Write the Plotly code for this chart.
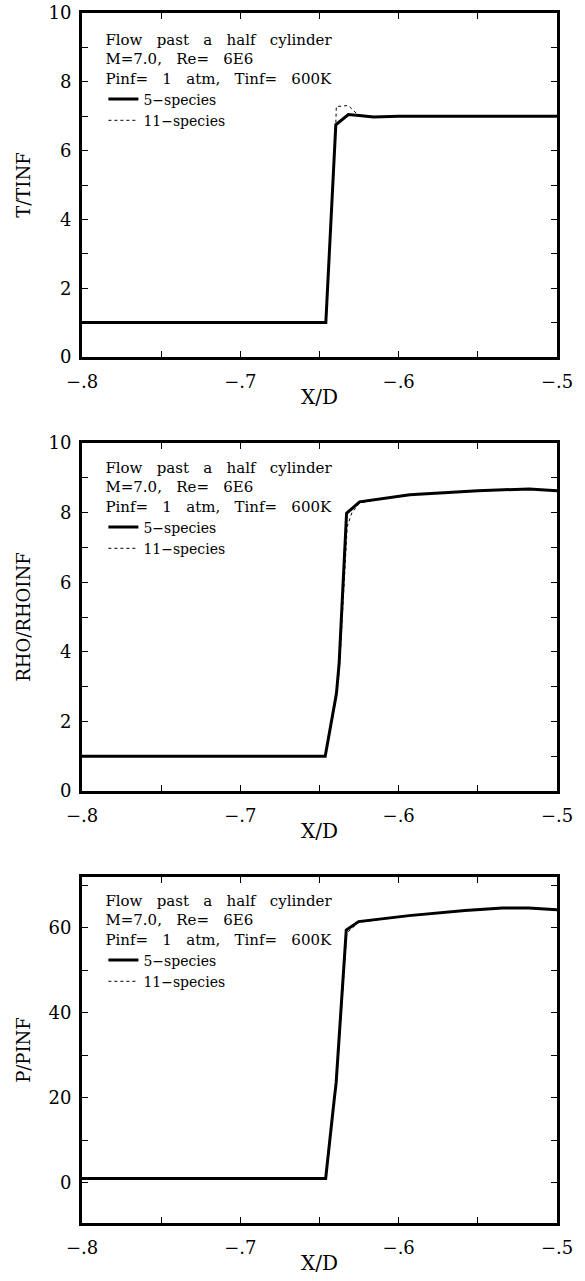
import plotly.graph_objects as go

# ---------------- data ----------------
x_T_5 = [-0.8, -0.646, -0.6397, -0.6318, -0.625, -0.616, -0.6, -0.55, -0.5]
T_5 = [1.0, 1.0, 6.75, 7.05, 7.02, 6.98, 7.0, 7.01, 7.0]
x_T_11 = [-0.8, -0.646, -0.6397, -0.6394, -0.6318, -0.6255, -0.616, -0.6, -0.55, -0.5]
T_11 = [1.0, 1.0, 6.75, 7.28, 7.31, 7.03, 6.99, 7.0, 7.01, 7.0]

x_R_5 = [-0.8, -0.6464, -0.6393, -0.6376, -0.6329, -0.6247, -0.593, -0.55, -0.5176, -0.5]
R_5 = [1.0, 1.0, 2.8, 3.67, 7.98, 8.31, 8.51, 8.63, 8.68, 8.63]
x_R_11 = [-0.8, -0.6464, -0.6393, -0.6374, -0.6325, -0.6295, -0.6247, -0.593, -0.55, -0.5176, -0.5]
R_11 = [1.0, 1.0, 2.7, 3.5, 7.6, 8.0, 8.28, 8.51, 8.63, 8.68, 8.63]

x_P_5 = [-0.8, -0.6461, -0.6407, -0.6395, -0.6331, -0.6253, -0.5935, -0.5581, -0.5345, -0.518, -0.5]
P_5 = [1.0, 1.0, 19.6, 23.5, 59.5, 61.5, 62.9, 64.1, 64.7, 64.7, 64.3]
x_P_11 = [-0.8, -0.6461, -0.6405, -0.6393, -0.6328, -0.6253, -0.5935, -0.5581, -0.5345, -0.518, -0.5]
P_11 = [1.0, 1.0, 19.6, 23.5, 58.8, 61.3, 62.9, 64.1, 64.7, 64.7, 64.3]

x_tickvals = [-0.8, -0.7, -0.6, -0.5]
x_ticktext = ["\u2212.8", "\u2212.7", "\u2212.6", "\u2212.5"]
x_title = "X/D"
y_titles = ["T/TINF", "RHO/RHOINF", "P/PINF"]
series_names = ["5\u2212species", "11\u2212species"]
S = "\u00a0\u00a0 "
info_text = ("Flow" + S + "past" + S + "a" + S + "half" + S + "cylinder<br>"
             "M=7.0," + S + "Re=" + S + "6E6<br>"
             "Pinf=" + S + "1" + S + "atm," + S + "Tinf=" + S + "600K")

FONT = "DejaVu Serif"

fig = go.Figure()

panels = [
    (x_T_5, T_5, x_T_11, T_11),
    (x_R_5, R_5, x_R_11, R_11),
    (x_P_5, P_5, x_P_11, P_11),
]
legend_ids = ["legend", "legend2", "legend3"]
for i, (xa, ya, xb, yb) in enumerate(panels):
    sfx = "" if i == 0 else str(i + 1)
    fig.add_trace(go.Scatter(x=xa, y=ya, mode="lines", name=series_names[0],
                             line=dict(color="black", width=3),
                             xaxis="x" + sfx, yaxis="y" + sfx,
                             legend=legend_ids[i]))
    fig.add_trace(go.Scatter(x=xb, y=yb, mode="lines", name=series_names[1],
                             line=dict(color="black", width=1, dash="dot"),
                             xaxis="x" + sfx, yaxis="y" + sfx,
                             legend=legend_ids[i]))

# geometry
W, H = 585, 1281
ml, mr, mt, mb = 82, 28, 13, 58
ph = H - mt - mb
def dom(top_px, bot_px):
    return [(H - mb - bot_px) / ph, (H - mb - top_px) / ph]

panel_px = [(13, 357), (443, 791), (877, 1223)]
domains = [dom(t, b) for t, b in panel_px]
yranges = [[0, 10], [0, 10], [-9.5, 72]]
ydticks = [(2, 1), (2, 1), (20, 10)]

layout = dict(
    width=W, height=H,
    margin=dict(l=ml, r=mr, t=mt, b=mb, autoexpand=False),
    paper_bgcolor="white", plot_bgcolor="white",
    font=dict(family=FONT, color="black"),
)

annotations = []
for i in range(3):
    sfx = "" if i == 0 else str(i + 1)
    layout["xaxis" + sfx] = dict(
        domain=[0, 1], anchor="y" + sfx, range=[-0.8, -0.5],
        tickvals=x_tickvals, ticktext=x_ticktext,
        ticks="inside", ticklen=6, tickwidth=1, tickcolor="black",
        minor=dict(dtick=0.05, tick0=-0.8, ticks="inside", ticklen=6, tickcolor="black"),
        showline=True, linewidth=3, linecolor="black", mirror="ticks",
        showgrid=False, zeroline=False,
        tickfont=dict(family=FONT, size=18), ticklabelstandoff=6,
    )
    d, m = ydticks[i]
    layout["yaxis" + sfx] = dict(
        domain=domains[i], anchor="x" + sfx, range=yranges[i],
        dtick=d, tick0=0,
        ticks="inside", ticklen=6, tickwidth=1, tickcolor="black",
        minor=dict(dtick=m, tick0=0, ticks="inside", ticklen=6, tickcolor="black"),
        showline=True, linewidth=3, linecolor="black", mirror="ticks",
        showgrid=False, zeroline=False,
        tickfont=dict(family=FONT, size=18), ticklabelstandoff=4,
        title=dict(text=y_titles[i], font=dict(family=FONT, size=18), standoff=14),
    )
    t, b = panel_px[i]
    annotations.append(dict(
        text=x_title, xref="x" + sfx + " domain", yref="y" + sfx + " domain",
        x=0.5, y=-40 / (b - t), xanchor="center", yanchor="middle",
        showarrow=False, font=dict(family=FONT, size=20, color="black"),
    ))

legend_tops = [25, 453, 886]
for i, lid in enumerate(legend_ids):
    layout[lid] = dict(
        x=0.045, y=(H - mb - legend_tops[i]) / ph, xanchor="left", yanchor="top",
        bgcolor="rgba(0,0,0,0)", borderwidth=0,
        font=dict(family=FONT, size=14, color="black"),
        title=dict(text=info_text, font=dict(family=FONT, size=15, color="black"), side="top"),
        tracegroupgap=0, itemwidth=30,
    )

layout["annotations"] = annotations
fig.update_layout(**layout)
fig.write_html("out.html")
